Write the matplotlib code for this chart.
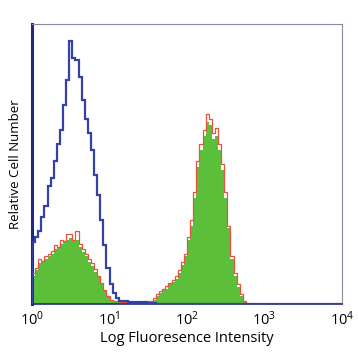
import numpy as np
import matplotlib
matplotlib.use("Agg")
import matplotlib.pyplot as plt

plt.rcParams['font.family'] = ['Open Sans', 'DejaVu Sans']
plt.rcParams['mathtext.default'] = 'regular'

# 25 log bins per decade, 10^0 .. 10^4
bins_per_decade = 25
n_bins = 100

blue_counts = [22, 24, 26, 31, 35, 42, 45, 51, 57, 62, 71, 80, 94, 88, 87, 81, 73, 66, 61, 55,
               46, 39, 30, 21, 13, 7, 4, 2, 1.2, 1.0, 0.9, 0.8, 0.8, 0.7, 0.7, 0.6, 0.6, 0.5, 0.5, 0.4]
green_counts = [10, 12, 14.5, 15.5, 16, 17, 18, 19.5, 20, 21.5, 22, 23, 23.5, 22.5, 23, 20.5, 18.5, 17, 15, 13.5,
                11.5, 9.5, 7, 4.5, 2.5, 1.2, 0.8, 0.8, 0.7, 0.7, 0.6, 0.6, 0.7, 0.7, 0.6, 0.7, 0.7, 0.8, 0.8, 1.5,
                3, 4, 5, 5.5, 7, 8, 9, 11, 14, 17, 23, 28, 38, 49, 55, 60, 65, 64, 59, 60,
                55, 48, 38, 27, 16, 10, 6, 3, 1, 0.3]
red_counts = [11, 13, 16, 15.5, 17, 18, 19, 21, 20.5, 23, 22.5, 25, 25, 23, 26, 21.5, 19.5, 18, 16, 14.5,
              12.5, 10, 7.5, 5, 3, 1.5, 1.0, 0.9, 0.8, 0.8, 0.7, 0.7, 0.8, 0.8, 0.7, 0.8, 0.8, 1.0, 1.0, 2,
              3.5, 4.5, 5.5, 6.5, 7.5, 8.5, 10, 12, 15, 18, 24, 30, 40, 51, 57, 62, 68, 66, 61, 63,
              57, 50, 40, 28, 17, 11, 7, 3.5, 1.2, 0.4]
xticks = [1, 10, 100, 1000, 10000]
xticklabels = ['10$^{0}$', '10$^{1}$', '10$^{2}$', '10$^{3}$', '10$^{4}$']

def pad(a):
    out = np.zeros(n_bins)
    out[:len(a)] = a
    return out

edges = 10 ** (np.arange(n_bins + 1) / bins_per_decade)
blue = pad(blue_counts)
green = pad(green_counts)
red = pad(red_counts)

fig = plt.figure(figsize=(3.58, 3.58), dpi=100)
ax = fig.add_axes([0.0894, 0.151, 0.866, 0.782])

ax.stairs(green, edges, fill=True, color='#5cbf3a', zorder=2)
ax.stairs(red, edges, color='#e8513f', lw=0.9, zorder=3)
ax.stairs(blue, edges, color='#3442a6', lw=1.6, zorder=4)

ax.set_xscale('log')
ax.set_xlim(1, 10000)
ax.set_ylim(0, 100)
ax.set_xticks(xticks)
ax.set_xticklabels(xticklabels, fontsize=10.5)
ax.minorticks_off()
ax.tick_params(axis='x', length=0, pad=5)
ax.set_yticks([])

for s in ['top', 'right']:
    ax.spines[s].set_color('#8a8a9a')
    ax.spines[s].set_linewidth(0.8)
ax.spines['left'].set_color('#1f2a80')
ax.spines['left'].set_linewidth(2.2)
ax.spines['bottom'].set_color('#1f2a80')
ax.spines['bottom'].set_linewidth(1.2)

ax.set_xlabel('Log Fluoresence Intensity', fontsize=10.5, labelpad=1)
ax.set_ylabel('Relative Cell Number', fontsize=9.5, labelpad=7)

fig.savefig('out.png', dpi=100)
